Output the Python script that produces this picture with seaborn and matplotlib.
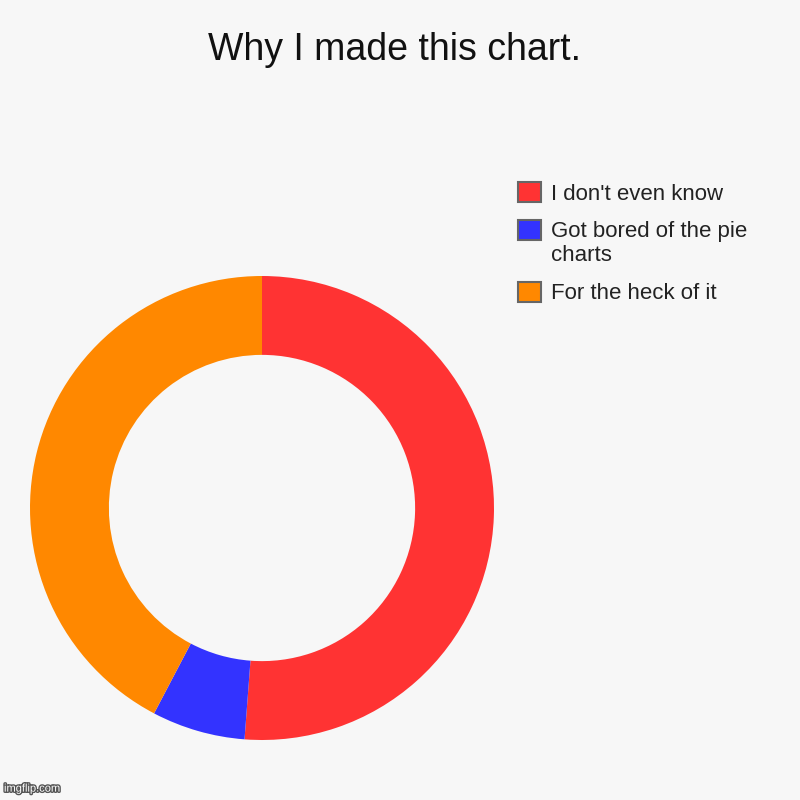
import textwrap
import matplotlib
matplotlib.use("Agg")
import matplotlib.pyplot as plt
import matplotlib.patheffects as pe
from matplotlib.patches import Rectangle
from matplotlib.legend_handler import HandlerPatch
import seaborn as sns

# data (share of the ring, %)
reasons = ["I don't even know", "Got bored of the pie charts", "For the heck of it"]
shares = [51.2, 6.5, 42.3]
colors = ["#ff3333", "#3333ff", "#ff8800"]

sns.set_theme(style="white")
plt.rcParams['font.family'] = ['Liberation Sans', 'DejaVu Sans']

bg = "#f7f7f7"
fig = plt.figure(figsize=(8, 8), dpi=100, facecolor=bg)
ax = fig.add_axes([0.0375, 0.075, 0.58, 0.58])
ax.set_facecolor(bg)

wedges, _ = ax.pie(shares, colors=colors, startangle=90, counterclock=False,
                   radius=1, wedgeprops=dict(width=0.34, linewidth=0))
ax.set_xlim(-1, 1)
ax.set_ylim(-1, 1)
ax.set_aspect("equal")
ax.axis("off")

fig.text(0.493, 0.925, "Why I made this chart.", ha="center", va="baseline",
         fontsize=27, color="#111111")

labels = [textwrap.fill(r, 20) for r in reasons]
fs = 16
lsp = 1.23


def top_aligned(nlines):
    # put the square next to the first line of a wrapped label
    def make(legend, orig_handle, xdescent, ydescent, width, height, fontsize):
        shift = (nlines - 1) / 2 * fontsize * lsp
        return Rectangle((-xdescent, -ydescent + shift), width, height)
    return HandlerPatch(patch_func=make)


hmap = {w: top_aligned(lab.count("\n") + 1) for w, lab in zip(wedges, labels)}
leg = fig.legend(wedges, labels, loc="upper left", bbox_to_anchor=(0.623, 0.797),
                 frameon=False, fontsize=fs, handlelength=1.0, handleheight=1.0,
                 handletextpad=0.45, labelspacing=0.7, handler_map=hmap)
for h in leg.legend_handles:
    h.set_edgecolor("#666666")
    h.set_linewidth(1.5)
for t in leg.get_texts():
    t.set_color("#222222")
    t.set_linespacing(lsp)

fig.text(0.005, 0.008, "imgflip.com", fontsize=8, color="white", ha="left", va="bottom",
         path_effects=[pe.withStroke(linewidth=2, foreground="#555555")])

fig.savefig("out.png", dpi=100, facecolor=bg)
